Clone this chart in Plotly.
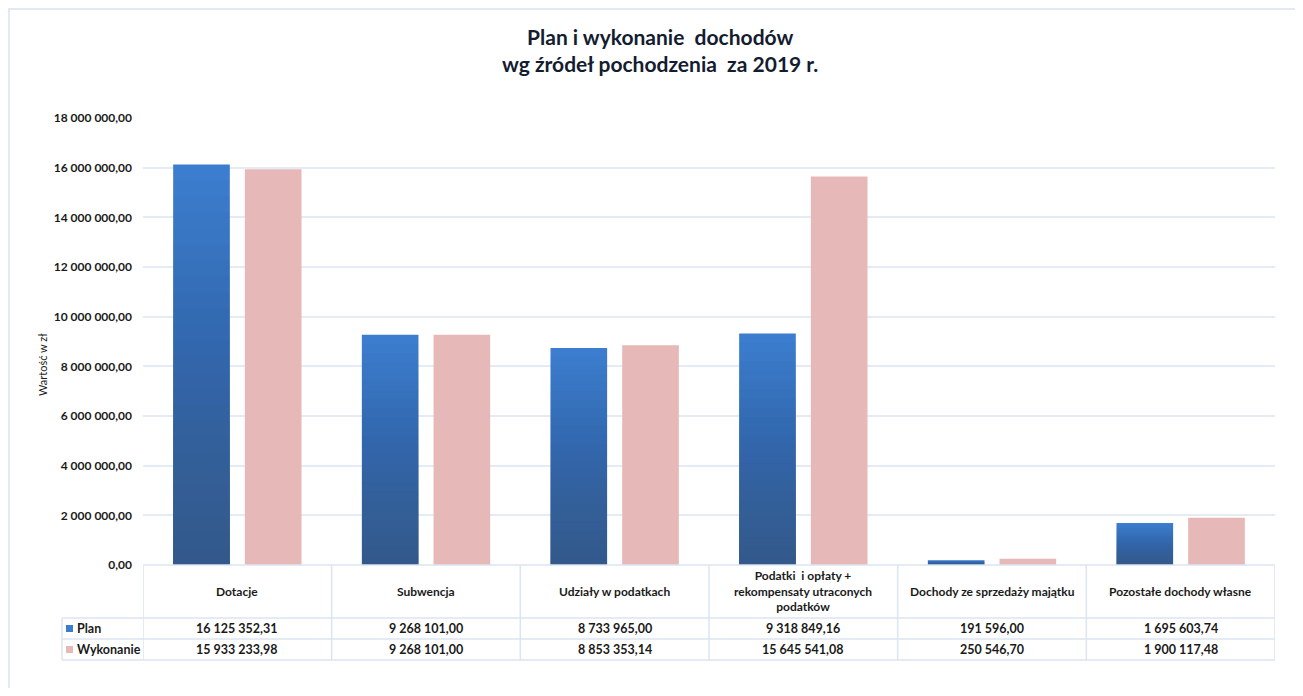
import plotly.graph_objects as go

categories = ["Dotacje", "Subwencja", "Udziały w podatkach",
              "Podatki  i opłaty +<br>rekompensaty utraconych<br>podatków",
              "Dochody ze sprzedaży majątku", "Pozostałe dochody własne"]
plan = [16125352.31, 9268101.00, 8733965.00, 9318849.16, 191596.00, 1695603.74]
wykonanie = [15933233.98, 9268101.00, 8853353.14, 15645541.08, 250546.70, 1900117.48]
series_names = ["Plan", "Wykonanie"]

W, H = 1287, 680
ML, MR, MT, MB = 135, 20, 110, 123
PW, PH = W - ML - MR, H - MT - MB
BOTTOM = H - MB

def px(fx):
    return (fx - ML) / PW

def py(fy):
    return (BOTTOM - fy) / PH

def fmt(v):
    return f"{v:,.2f}".replace(",", " ").replace(".", ",")

FONT = "Lato, 'Open Sans', sans-serif"
BLUE = "#3c7dcf"
PINK = "#e6b8b7"
LINE = "#dbe4f1"
TXT = "#1a1a1a"

fig = go.Figure()
fig.add_trace(go.Bar(x=categories, y=plan, name="Plan", offsetgroup="plan",
                     marker=dict(color=BLUE, line=dict(width=0))))
# fake the excel vertical gradient: stacked translucent overlays, darker at the base
n_layers = 25
for k in range(1, n_layers):
    frac = 1 - k / n_layers
    fig.add_trace(go.Bar(x=categories, y=[v * frac for v in plan], offsetgroup="plan",
                         marker=dict(color="rgba(35,50,75,0.021)", line=dict(width=0)),
                         showlegend=False, hoverinfo="skip"))
fig.add_trace(go.Bar(x=categories, y=wykonanie, name="Wykonanie", offsetgroup="wyk",
                     marker=dict(color=PINK, line=dict(width=0))))

shapes = []
# chart frame (top / left)
shapes.append(dict(type="line", xref="paper", yref="paper", x0=px(0), x1=px(W + 20),
                   y0=py(1), y1=py(1), line=dict(color="#e3e9f3", width=2)))
shapes.append(dict(type="line", xref="paper", yref="paper", x0=px(1), x1=px(1),
                   y0=py(1), y1=py(H + 20), line=dict(color="#e3e9f3", width=2)))

# data table lines
row_y = [BOTTOM, 610, 631, 652]
for i, ry in enumerate(row_y):
    x0 = 0 if i == 0 else px(54)
    shapes.append(dict(type="line", xref="paper", yref="paper", x0=x0, x1=1,
                       y0=py(ry), y1=py(ry), line=dict(color=LINE, width=1.5)))
for b in range(len(categories) + 1):
    shapes.append(dict(type="line", xref="x", yref="paper", x0=b - 0.5, x1=b - 0.5,
                       y0=py(BOTTOM), y1=py(652), line=dict(color=LINE, width=1.5)))
shapes.append(dict(type="line", xref="paper", yref="paper", x0=px(54), x1=px(54),
                   y0=py(610), y1=py(652), line=dict(color=LINE, width=1.5)))

annotations = []
annotations.append(dict(text="<b>Plan i wykonanie  dochodów<br>wg źródeł pochodzenia  za 2019 r.</b>",
                        xref="paper", yref="paper", x=px(652), y=py(42),
                        xanchor="center", yanchor="middle", showarrow=False,
                        font=dict(family=FONT, size=21, color="#141c30")))
annotations.append(dict(text="Wartość w zł", xref="paper", yref="paper", x=px(34), y=py(357),
                        textangle=-90, xanchor="center", yanchor="middle", showarrow=False,
                        font=dict(family=FONT, size=11, color=TXT)))
for c in categories:
    annotations.append(dict(text=c, xref="x", yref="paper", x=c, y=py(583),
                            xanchor="center", yanchor="middle", showarrow=False,
                            font=dict(family=FONT, size=12, color=TXT, weight="bold")))
row_centers = [620.5, 641.5]
for vals, cy in zip([plan, wykonanie], row_centers):
    for c, v in zip(categories, vals):
        annotations.append(dict(text=fmt(v), xref="x", yref="paper", x=c, y=py(cy),
                                xanchor="center", yanchor="middle", showarrow=False,
                                font=dict(family=FONT, size=12.5, color=TXT, weight="bold")))
for name, col, cy in zip(series_names, [BLUE, PINK], row_centers):
    shapes.append(dict(type="rect", xref="paper", yref="paper", x0=px(58), x1=px(65),
                       y0=py(cy + 3.5), y1=py(cy - 3.5), fillcolor=col, line=dict(width=0)))
    annotations.append(dict(text=name, xref="paper", yref="paper", x=px(67), y=py(cy),
                            xanchor="left", yanchor="middle", showarrow=False,
                            font=dict(family=FONT, size=12.5, color=TXT, weight="bold")))

fig.update_layout(
    width=W, height=H,
    margin=dict(l=ML, r=MR, t=MT, b=MB),
    barmode="group", bargap=0.24, bargroupgap=0.21,
    separators=", ",
    showlegend=False,
    plot_bgcolor="white", paper_bgcolor="white",
    shapes=shapes, annotations=annotations,
    font=dict(family=FONT),
)
fig.update_xaxes(showticklabels=False, showgrid=False, zeroline=False, showline=False,
                 range=[-0.5, len(categories) - 0.5])
fig.update_yaxes(range=[0, 18000000], dtick=2000000, tickformat=",.2f",
                 gridcolor="#e4ebf5", gridwidth=1.5, zeroline=False, showline=False,
                 ticks="", ticklabelstandoff=10,
                 tickfont=dict(family=FONT, size=12, color=TXT, weight="bold"))

fig.write_html("out.html")
